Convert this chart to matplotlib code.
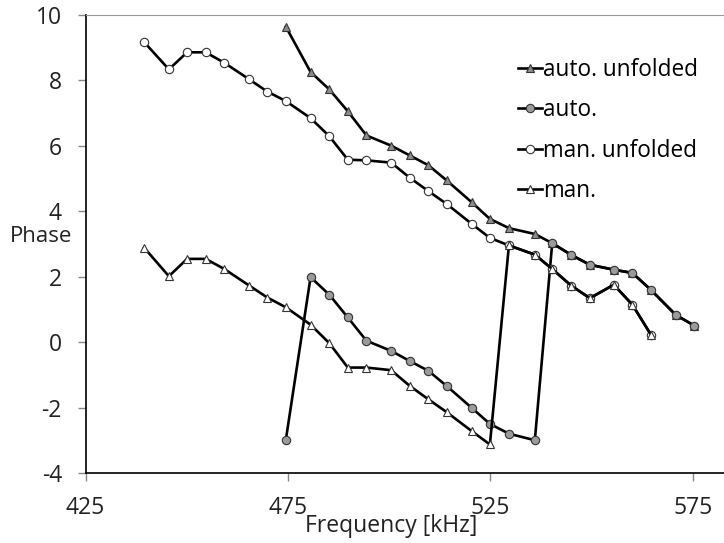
import matplotlib
matplotlib.use("Agg")
import matplotlib.pyplot as plt

plt.rcParams['font.family'] = ['Open Sans', 'DejaVu Sans']
plt.rcParams['axes.unicode_minus'] = False

# Frequencies [kHz]
freq_man = [439.5, 445.6, 450.1, 454.7, 459.3, 465.5, 469.9, 474.5, 480.6, 485.2,
            489.8, 494.4, 500.5, 505.1, 509.7, 514.2, 520.4, 524.9, 529.6, 536.0,
            540.3, 545.0, 549.6, 555.5, 560.1, 564.7]
freq_auto = [474.5, 480.6, 485.2, 489.8, 494.4, 500.5, 505.1, 509.7, 514.2, 520.4,
             524.9, 529.6, 536.0, 540.3, 545.0, 549.6, 555.5, 560.1, 564.7, 570.8,
             575.4]

# Phase values
auto_unfolded = [9.64, 8.26, 7.73, 7.06, 6.32, 6.01, 5.71, 5.41, 4.95, 4.28,
                 3.77, 3.49, 3.31, 3.03, 2.67, 2.37, 2.22, 2.12, 1.60, 0.84,
                 0.51]
auto = [-2.97, 1.99, 1.46, 0.76, 0.05, -0.26, -0.57, -0.87, -1.33, -2.00,
        -2.49, -2.79, -2.99, 3.03, 2.67, 2.37, 2.22, 2.12, 1.60, 0.84,
        0.51]
man_unfolded = [9.17, 8.34, 8.86, 8.86, 8.54, 8.03, 7.66, 7.37, 6.85, 6.30,
                5.58, 5.56, 5.49, 5.03, 4.62, 4.23, 3.62, 3.19, 2.96, 2.68,
                2.24, 1.73, 1.35, 1.76, 1.15, 0.23]
man = [2.89, 2.02, 2.55, 2.55, 2.24, 1.73, 1.37, 1.07, 0.54, -0.02,
       -0.77, -0.77, -0.85, -1.33, -1.74, -2.13, -2.71, -3.12, 2.96, 2.68,
       2.24, 1.73, 1.35, 1.76, 1.15, 0.23]

fig = plt.figure(figsize=(7.24, 5.43), dpi=100)
ax = fig.add_axes([85.5 / 724, 1 - 473.3 / 543, 1 - 85.5 / 724, (473.3 - 15) / 543])

common = dict(color='black', lw=1.9, markersize=6, markeredgewidth=0.8,
              markeredgecolor='#333333')
ax.plot(freq_auto, auto_unfolded, marker='^', markerfacecolor='#8c8c8c',
        label='auto. unfolded', **common)
ax.plot(freq_auto, auto, marker='o', markerfacecolor='#9a9a9a',
        label='auto.', **common)
ax.plot(freq_man, man_unfolded, marker='o', markerfacecolor='white',
        label='man. unfolded', **common)
ax.plot(freq_man, man, marker='^', markerfacecolor='white',
        label='man.', **common)

ax.set_xlim(425, 425 + (724 - 85.5) / 4.048)
ax.set_ylim(-4, 10)
ax.set_xticks([425, 475, 525, 575])
ax.set_yticks(range(-4, 11, 2))
ax.tick_params(direction='out', length=6, width=1, color='#888888',
               labelsize=16.5, labelcolor='#222222')
ax.tick_params(axis='x', pad=10)
ax.tick_params(axis='y', pad=11)

ax.spines['right'].set_visible(False)
ax.spines['top'].set_color('#999999')
ax.spines['left'].set_linewidth(1.2)
ax.spines['bottom'].set_linewidth(1.2)

# y title sits just under the "4" tick label, as in the reference
fig.text(10 / 724, 1 - 226 / 543, 'Phase', fontsize=16, color='#222222',
         ha='left', va='top')
fig.text(391 / 724, 1 - 526 / 543, 'Frequency [kHz]', fontsize=16.5,
         color='#222222', ha='center', va='center')

fig.legend(loc='upper left', bbox_to_anchor=(518 / 724, 1 - 58 / 543),
           frameon=False, fontsize=16.3, handlelength=1.05, handletextpad=0.05,
           labelspacing=0.72, borderpad=0, borderaxespad=0)

fig.savefig('out.png', dpi=100)
